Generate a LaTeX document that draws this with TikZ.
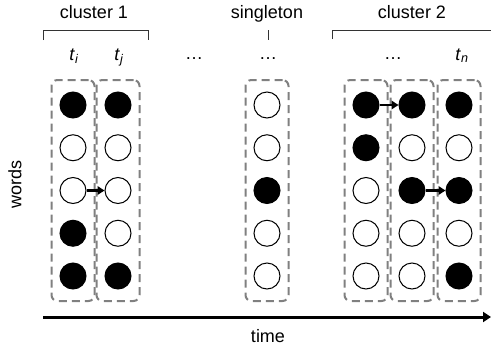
\documentclass[tikz,border=0pt]{standalone}
\usepackage{fontspec}
\setmainfont{Liberation Sans}
\usetikzlibrary{positioning,fit,arrows.meta}

\begin{document}
\begin{tikzpicture}[x=1pt,y=-1pt,node distance=42.75pt,
    font=\fontsize{18}{20}\selectfont,
    empty node/.style={circle,draw,line width=1pt,minimum size=26pt,inner sep=0pt},
    full node/.style={empty node,fill=black},
    slice box/.style={draw=gray,dash pattern=on 8pt off 5pt,line width=2pt,
      rounded corners=6pt,inner xsep=8pt,inner ysep=11.5pt},
    shift arrow/.style={-{Triangle[length=7pt,width=8.5pt]},line width=2.4pt},
    bracket/.style={draw=black!80,line width=0.9pt}]
    \useasboundingbox (0,0) rectangle (491,354);

    % column t_i
    \node[full node] (i1) at (73,105) {};
    \node[empty node] (i2) [below of=i1] {};
    \node[empty node] (i3) [below of=i2] {};
    \node[full node] (i4) [below of=i3] {};
    \node[full node] (i5) [below of=i4] {};

    % column t_j
    \node[full node] (j1) at (118,105) {};
    \node[empty node] (j2) [below of=j1] {};
    \node[empty node] (j3) [below of=j2] {};
    \node[empty node] (j4) [below of=j3] {};
    \node[full node] (j5) [below of=j4] {};

    % singleton
    \node[empty node] (s1) at (267,105) {};
    \node[empty node] (s2) [below of=s1] {};
    \node[full node] (s3) [below of=s2] {};
    \node[empty node] (s4) [below of=s3] {};
    \node[empty node] (s5) [below of=s4] {};

    % cluster 2
    \node[full node] (a1) at (366,105) {};
    \node[full node] (a2) [below of=a1] {};
    \node[empty node] (a3) [below of=a2] {};
    \node[empty node] (a4) [below of=a3] {};
    \node[empty node] (a5) [below of=a4] {};

    \node[full node] (b1) at (412,105) {};
    \node[empty node] (b2) [below of=b1] {};
    \node[full node] (b3) [below of=b2] {};
    \node[empty node] (b4) [below of=b3] {};
    \node[empty node] (b5) [below of=b4] {};

    \node[full node] (n1) at (459,105) {};
    \node[empty node] (n2) [below of=n1] {};
    \node[full node] (n3) [below of=n2] {};
    \node[empty node] (n4) [below of=n3] {};
    \node[full node] (n5) [below of=n4] {};

    \node[slice box,fit=(i1)(i5)] (boxi) {};
    \node[slice box,fit=(j1)(j5)] (boxj) {};
    \node[slice box,fit=(s1)(s5)] (boxs) {};
    \node[slice box,fit=(a1)(a5)] (boxa) {};
    \node[slice box,fit=(b1)(b5)] (boxb) {};
    \node[slice box,fit=(n1)(n5)] (boxn) {};

    \path
    (i3) edge[shift arrow] (j3)
    (a1) edge[shift arrow] (b1)
    (b3) edge[shift arrow] (n3);

    % labels on top
    \node[anchor=base] (clus1) at (94,18) {cluster 1};
    \node[anchor=base] (single) at (267,18) {singleton};
    \node[anchor=base] (clus2) at (412,18) {cluster 2};
    \draw[bracket] (43,40) -- (43,30) -- (148,30) -- (148,40);
    \draw[bracket] (268,30) -- (268,40);
    \draw[bracket] (332,39) -- (332,30) -- (491,30);

    \node[anchor=base] (ti) at (74,60) {\textit{t}\textsubscript{\textit{i}}};
    \node[anchor=base] (tj) at (119,60) {\textit{t}\textsubscript{\textit{j}}};
    \node[anchor=base] (dots1) at (194,59) {…};
    \node[anchor=base] (dots2) at (268,59) {…};
    \node[anchor=base] (dots3) at (393,59) {…};
    \node[anchor=base] (tn) at (462,60) {\textit{t}\textsubscript{\textit{n}}};

    % axes
    \node[rotate=90] (words) at (15,184) {words};
    \coordinate (t0) at (43,317);
    \coordinate (t1) at (491,317);
    \draw[-{Triangle[length=8pt,width=10pt]},line width=3pt] (t0) -- (t1);
    \node[anchor=base] (time) at (268,342) {time};
  \end{tikzpicture}
\end{document}
